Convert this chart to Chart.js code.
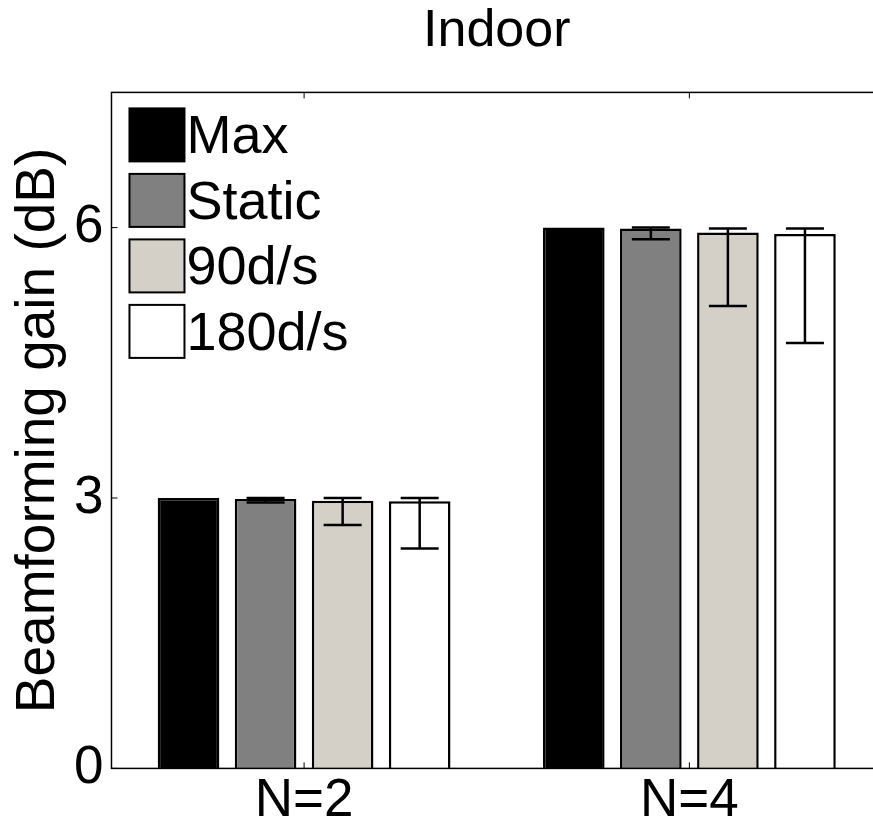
<!DOCTYPE html>
<html>
<head>
<meta charset="utf-8">
<script src="https://cdn.jsdelivr.net/npm/chart.js@4.4.0/dist/chart.umd.min.js"></script>
<style>
html, body { margin: 0; padding: 0; background: #fff; overflow: hidden; }
#wrap { width: 900px; height: 834px; }
</style>
</head>
<body>
<div id="wrap"><canvas id="myChart"></canvas></div>
<script>
var categorias = ['N=2', 'N=4'];
var nomes = ['Max', 'Static', '90d/s', '180d/s'];
var cores = ['#000000', '#808080', '#d4d0c8', '#ffffff'];
var ticks_y = [0, 3, 6];

var valor_max = [3.0, 6.0];
var valor_static = [2.99, 5.99];
var valor_90 = [2.97, 5.945];
var valor_180 = [2.965, 5.93];

// erro (limite inferior / superior)
var erro_static_baixo = [2.95, 5.87];
var erro_static_alto = [3.0, 6.0];
var erro_90_baixo = [2.70, 5.13];
var erro_90_alto = [3.0, 5.99];
var erro_180_baixo = [2.44, 4.72];
var erro_180_alto = [3.0, 5.99];

var fonte = '"Liberation Sans", Arial, sans-serif';

var barrasErro = {
    id: 'barrasErro',
    afterDatasetsDraw: function(chart) {
        var ctx = chart.ctx;
        var y = chart.scales.y;
        ctx.save();
        ctx.strokeStyle = '#000';
        ctx.lineWidth = 2.5;
        chart.data.datasets.forEach(function(ds, i) {
            if (!ds.errBaixo) return;
            var meta = chart.getDatasetMeta(i);
            meta.data.forEach(function(bar, j) {
                var x = bar.x;
                var yb = y.getPixelForValue(ds.errBaixo[j]);
                var ya = y.getPixelForValue(ds.errAlto[j]);
                ctx.beginPath();
                ctx.moveTo(x, yb); ctx.lineTo(x, ya);
                ctx.moveTo(x - 19, yb); ctx.lineTo(x + 19, yb);
                ctx.moveTo(x - 19, ya); ctx.lineTo(x + 19, ya);
                ctx.stroke();
            });
        });
        ctx.restore();
    }
};

var moldura = {
    id: 'moldura',
    afterDraw: function(chart) {
        var ctx = chart.ctx;
        var a = chart.chartArea;
        ctx.save();
        ctx.strokeStyle = '#000';
        ctx.lineWidth = 1.5;
        ctx.strokeRect(a.left, a.top, a.right - a.left, a.bottom - a.top);
        ctx.lineWidth = 1;
        var sy = chart.scales.y;
        ticks_y.forEach(function(v) {
            var p = sy.getPixelForValue(v);
            ctx.beginPath(); ctx.moveTo(a.left, p); ctx.lineTo(a.left + 6, p); ctx.stroke();
        });
        var sx = chart.scales.x;
        categorias.forEach(function(c, i) {
            var p = sx.getPixelForValue(i);
            ctx.beginPath();
            ctx.moveTo(p, a.bottom); ctx.lineTo(p, a.bottom - 6);
            ctx.moveTo(p, a.top); ctx.lineTo(p, a.top + 6);
            ctx.stroke();
        });
        ctx.restore();
    }
};

var legenda = {
    id: 'legenda',
    afterDraw: function(chart) {
        var ctx = chart.ctx;
        var a = chart.chartArea;
        ctx.save();
        ctx.font = '54px ' + fonte;
        ctx.textBaseline = 'middle';
        chart.data.datasets.forEach(function(ds, i) {
            var bx = a.left + 18;
            var by = a.top + 16 + i * 65.5;
            ctx.fillStyle = ds.backgroundColor;
            ctx.fillRect(bx, by, 55, 53);
            ctx.lineWidth = 2;
            ctx.strokeStyle = '#000';
            ctx.strokeRect(bx, by, 55, 53);
            ctx.fillStyle = '#000';
            ctx.fillText(ds.label, bx + 57, by + 30);
        });
        ctx.restore();
    }
};

function showGraphic() {
    const ctx = document.getElementById('myChart').getContext('2d');
    const myChart = new Chart(ctx, {
        type: 'bar',
        data: {
            labels: categorias,
            datasets: [
                { label: nomes[0], data: valor_max, backgroundColor: cores[0] },
                { label: nomes[1], data: valor_static, backgroundColor: cores[1],
                  errBaixo: erro_static_baixo, errAlto: erro_static_alto },
                { label: nomes[2], data: valor_90, backgroundColor: cores[2],
                  errBaixo: erro_90_baixo, errAlto: erro_90_alto },
                { label: nomes[3], data: valor_180, backgroundColor: cores[3],
                  errBaixo: erro_180_baixo, errAlto: erro_180_alto }
            ]
        },
        options: {
            responsive: true,
            maintainAspectRatio: false,
            animation: false,
            datasets: {
                bar: {
                    borderColor: '#000',
                    borderWidth: 2.5,
                    categoryPercentage: 0.8,
                    barPercentage: 0.8
                }
            },
            layout: { padding: { left: 0, right: 18, top: 0, bottom: 0 } },
            plugins: {
                legend: { display: false },
                tooltip: { enabled: false },
                title: {
                    display: true,
                    text: 'Indoor',
                    color: '#000',
                    fullSize: false,
                    font: { family: fonte, size: 52, weight: 'normal' },
                    padding: { top: 0, bottom: 30 }
                }
            },
            scales: {
                x: {
                    grid: { display: false, drawTicks: false },
                    border: { display: false },
                    ticks: {
                        color: '#000',
                        padding: 1,
                        font: { family: fonte, size: 53, lineHeight: 1.2 }
                    }
                },
                y: {
                    min: 0,
                    max: 7.5,
                    afterBuildTicks: function(axis) {
                        axis.ticks = ticks_y.map(function(v) { return { value: v }; });
                    },
                    grid: { display: false, drawTicks: false },
                    border: { display: false },
                    ticks: {
                        color: '#000',
                        padding: 8,
                        font: { family: fonte, size: 53 }
                    },
                    title: {
                        display: true,
                        text: 'Beamforming gain (dB)',
                        color: '#000',
                        padding: { top: 11, bottom: 0 },
                        font: { family: fonte, size: 55, lineHeight: 1 }
                    }
                }
            }
        },
        plugins: [barrasErro, moldura, legenda]
    });
}

showGraphic();
</script>
</body>
</html>
